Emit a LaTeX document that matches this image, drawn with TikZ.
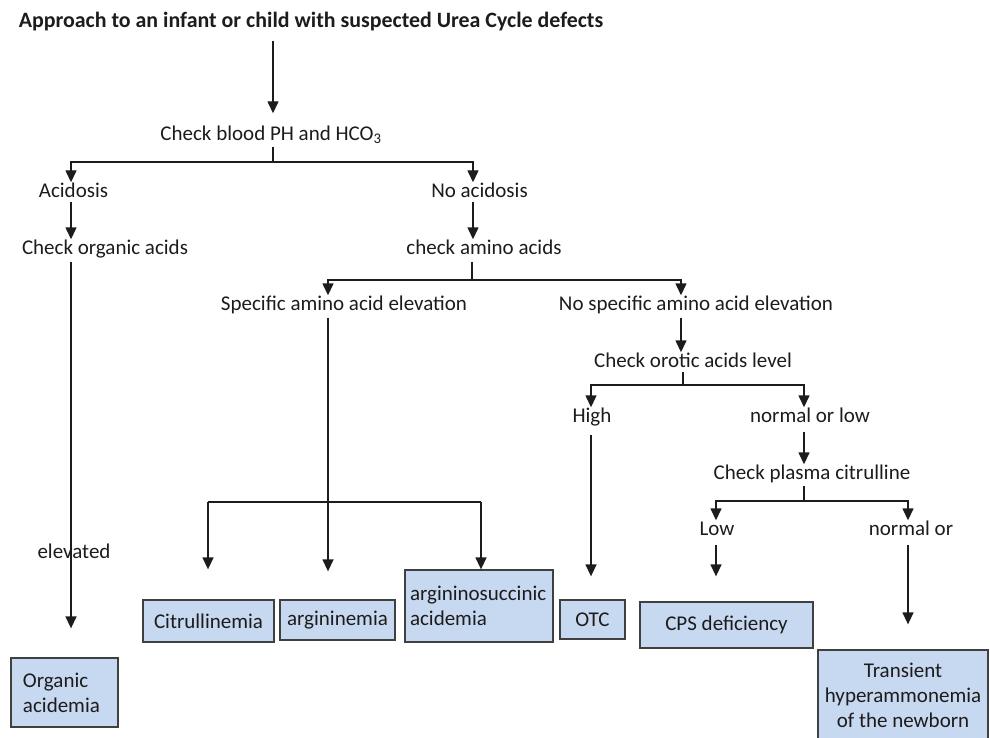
\documentclass[tikz,border=0pt]{standalone}
\usepackage{fontspec}
\setmainfont{Carlito}
\usetikzlibrary{arrows.meta}
\definecolor{boxfill}{RGB}{198,217,241}
\definecolor{ink}{RGB}{30,27,28}
\definecolor{boxline}{RGB}{64,64,64}
\begin{document}
\begin{tikzpicture}[x=1pt,y=-1pt,
  txt/.style={font=\fontsize{21}{25}\selectfont, text=ink, inner sep=0pt, text height=15pt, text depth=4pt},
  box/.style={draw=boxline, line width=1.3pt, fill=boxfill, font=\fontsize{21}{25}\selectfont, text=ink, inner sep=0pt, align=center},
  arr/.style={draw=ink, line width=1.4pt, -{Triangle[width=11pt,length=12pt]}},
  ln/.style={draw=ink, line width=1.4pt}]
\useasboundingbox (0,0) rectangle (990,738);
% text nodes
\node[txt, font=\fontsize{21.9}{26}\selectfont\bfseries] (title) at (311,22) {Approach to an infant or child with suspected Urea Cycle defects};
\node[txt] (chk1) at (271,135) {Check blood PH and HCO\textsubscript{3}};
\node[txt] (acid) at (73.5,192) {Acidosis};
\node[txt] (noacid) at (479.5,192) {No acidosis};
\node[txt] (orgacid) at (105,249) {Check organic acids};
\node[txt] (amino) at (484,249) {check amino acids};
\node[txt] (specific) at (344,305) {Specific amino acid elevation};
\node[txt] (nospec) at (696,305) {No specific amino acid elevation};
\node[txt] (orotic) at (693,362) {Check orotic acids level};
\node[txt] (high) at (592,417) {High};
\node[txt] (normlow) at (810,417) {normal or low};
\node[txt] (plasma) at (812,474) {Check plasma citrulline};
\node[txt] (low) at (717,530) {Low};
\node[txt] (normor) at (911,530) {normal or};
\node[txt] (elev) at (74,553) {elevated};
% boxes
\node[box, text width=83pt, inner xsep=12pt, minimum height=69pt, align=left] (orgbox) at (64.5,692.5) {Organic\\acidemia};
\node[box, minimum width=131pt, minimum height=42pt] (citbox) at (208.5,621) {Citrullinemia};
\node[box, minimum width=115pt, minimum height=40pt] (argbox) at (337.5,620) {argininemia};
\node[box, text width=138pt, inner xsep=5pt, minimum height=72pt, align=left] (asabox) at (479,606) {argininosuccinic\\acidemia};
\node[box, minimum width=65pt, minimum height=39pt] (otcbox) at (592.5,619.5) {OTC};
\node[box, minimum width=173pt, minimum height=46pt] (cpsbox) at (726.5,625) {CPS deficiency};
\node[box, minimum width=170pt, minimum height=91pt] (thbox) at (903,695.5) {Transient\\hyperammonemia\\of the newborn};
% junctions
\coordinate (b1) at (273,162);
\coordinate (b1l) at (71,162);
\coordinate (b1r) at (473,162);
\coordinate (b2) at (472,280);
\coordinate (b2l) at (328,280);
\coordinate (b2r) at (681,280);
\coordinate (b3l) at (208,502);
\coordinate (b3r) at (481,502);
\coordinate (b4) at (683,385);
\coordinate (b4l) at (591,385);
\coordinate (b4r) at (804,385);
\coordinate (b5) at (804,501);
\coordinate (b5l) at (716,501);
\coordinate (b5r) at (908,501);
% connectors
\draw[arr] ([yshift=-9pt]title.south -| b1) -- ([yshift=12pt]chk1.north -| b1);
\draw[ln] ([yshift=-2pt]chk1.south -| b1) -- (b1);
\draw[arr] (b1) -| (acid.north -| b1l);
\draw[arr] (b1) -| (noacid.north -| b1r);
\draw[arr] (acid.south -| b1l) -- (orgacid.north -| b1l);
\draw[arr] (noacid.south -| b1r) -- (amino.north -| b1r);
\draw[ln] ([yshift=-3pt]amino.south -| b2) -- (b2);
\draw[arr] (b2) -| (specific.north -| b2l);
\draw[arr] (b2) -| (nospec.north -| b2r);
\draw[arr] ([yshift=-3pt]specific.south -| b2l) -- ([yshift=28pt]argbox.north -| b2l);
\draw[ln] (b3l) -- (b3r);
\draw[arr] (b3l) -- ([yshift=30pt]citbox.north -| b3l);
\draw[arr] (b3r) -- (asabox.north -| b3r);
\draw[arr] ([yshift=-3pt]orgacid.south -| b1l) -- ([yshift=29pt]orgbox.north -| b1l);
\draw[arr] ([yshift=-3pt]nospec.south -| b2r) -- (orotic.north -| b2r);
\draw[ln] (orotic.south -| b4) -- (b4);
\draw[arr] (b4) -| (high.north -| b4l);
\draw[arr] (b4) -| (normlow.north -| b4r);
\draw[arr] ([yshift=-8pt]high.south -| b4l) -- ([yshift=23pt]otcbox.north -| b4l);
\draw[arr] ([yshift=-5pt]normlow.south -| b4r) -- (plasma.north -| b4r);
\draw[ln] ([yshift=-2pt]plasma.south -| b5) -- (b5);
\draw[arr] (b5) -| (low.north -| b5l);
\draw[arr] (b5) -| (normor.north -| b5r);
\draw[arr] ([yshift=-5pt]low.south -| b5l) -- ([yshift=25pt]cpsbox.north -| b5l);
\draw[arr] ([yshift=-5pt]normor.south -| b5r) -- ([yshift=25pt]thbox.north -| b5r);
\end{tikzpicture}
\end{document}
